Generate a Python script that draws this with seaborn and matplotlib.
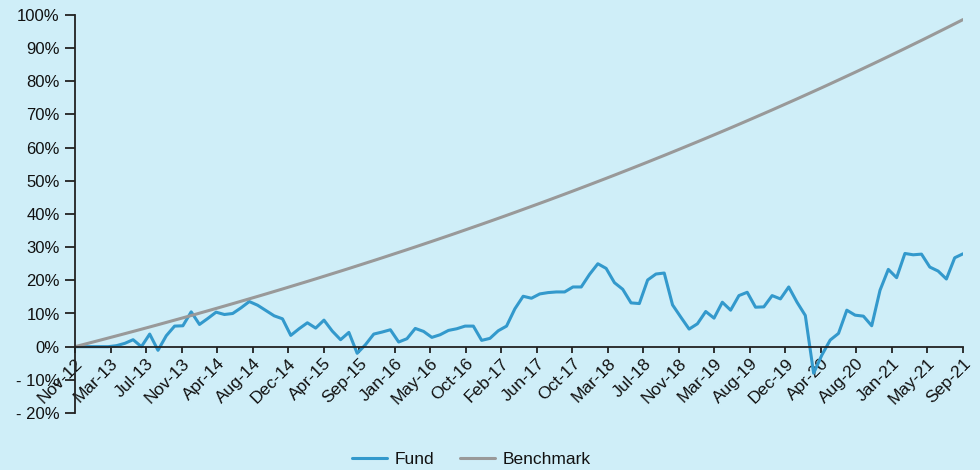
import numpy as np
import pandas as pd
import matplotlib
matplotlib.use("Agg")
import matplotlib.pyplot as plt
import seaborn as sns

# Cumulative returns (%) by month, Nov-12 base point through Sep-21
fund = [
    0.0, 0.0, 0.0, 0.0, 0.0, 0.3, 1.0, 2.1, 0.0, 3.8,
    -1.1, 3.3, 6.2, 6.3, 10.5, 6.7, 8.5, 10.4, 9.7, 10.0,
    11.7, 13.6, 12.5, 10.9, 9.3, 8.4, 3.4, 5.4, 7.2, 5.6,
    8.0, 4.7, 2.1, 4.3, -2.0, 0.6, 3.8, 4.4, 5.1, 1.4,
    2.4, 5.5, 4.6, 2.8, 3.6, 4.9, 5.4, 6.2, 6.2, 1.9,
    2.5, 4.8, 6.2, 11.4, 15.2, 14.6, 15.9, 16.3, 16.5, 16.5,
    18.0, 18.0, 21.8, 25.0, 23.6, 19.3, 17.3, 13.2, 13.0, 20.1,
    21.9, 22.2, 12.6, 8.9, 5.3, 6.9, 10.6, 8.6, 13.4, 11.0,
    15.4, 16.4, 11.9, 12.0, 15.4, 14.4, 18.0, 13.4, 9.4, -8.0,
    -2.5, 2.0, 4.0, 11.0, 9.5, 9.2, 6.3, 17.0, 23.3, 20.8,
    28.1, 27.7, 27.9, 24.0, 22.8, 20.4, 26.8, 28.0,
]

benchmark = [
    0.00, 0.64, 1.29, 1.94, 2.60, 3.26, 3.92, 4.59, 5.26, 5.94,
    6.62, 7.31, 8.00, 8.69, 9.39, 10.10, 10.81, 11.52, 12.24, 12.96,
    13.69, 14.42, 15.15, 15.89, 16.64, 17.39, 18.15, 18.91, 19.67, 20.44,
    21.22, 22.00, 22.78, 23.57, 24.37, 25.17, 25.97, 26.78, 27.60, 28.42,
    29.24, 30.07, 30.91, 31.75, 32.60, 33.45, 34.31, 35.18, 36.05, 36.92,
    37.80, 38.69, 39.58, 40.48, 41.39, 42.30, 43.21, 44.13, 45.06, 45.99,
    46.93, 47.88, 48.83, 49.79, 50.75, 51.72, 52.70, 53.68, 54.67, 55.66,
    56.67, 57.67, 58.69, 59.71, 60.74, 61.77, 62.81, 63.86, 64.91, 65.97,
    67.04, 68.12, 69.20, 70.29, 71.38, 72.49, 73.60, 74.71, 75.84, 76.97,
    78.10, 79.25, 80.41, 81.57, 82.73, 83.91, 85.09, 86.28, 87.48, 88.69,
    89.90, 91.13, 92.35, 93.59, 94.84, 96.09, 97.35, 98.62,
]

tick_labels = [
    "Nov-12", "Mar-13", "Jul-13", "Nov-13", "Apr-14", "Aug-14", "Dec-14",
    "Apr-15", "Sep-15", "Jan-16", "May-16", "Oct-16", "Feb-17", "Jun-17",
    "Oct-17", "Mar-18", "Jul-18", "Nov-18", "Mar-19", "Aug-19", "Dec-19",
    "Apr-20", "Aug-20", "Jan-21", "May-21", "Sep-21",
]

y_ticks = [-20, -10, 0, 10, 20, 30, 40, 50, 60, 70, 80, 90, 100]
y_tick_labels = ["- 20%", "- 10%", "0%", "10%", "20%", "30%", "40%",
                 "50%", "60%", "70%", "80%", "90%", "100%"]

series_names = ["Fund", "Benchmark"]
series_colors = ["#3399cc", "#999999"]

bg = "#cfeef8"

sns.set_theme(style="white")
plt.rcParams["font.family"] = ["Liberation Sans", "DejaVu Sans"]
plt.rcParams["text.color"] = "#111111"

months = np.arange(len(fund))
df = pd.concat([
    pd.DataFrame({"month": months, "value": fund, "series": "Fund"}),
    pd.DataFrame({"month": months, "value": benchmark, "series": "Benchmark"}),
])

fig = plt.figure(figsize=(9.8, 4.7), dpi=100, facecolor=bg)
ax = fig.add_axes([75 / 980, 1 - 413 / 470, 888 / 980, 398 / 470])
ax.set_facecolor(bg)

sns.lineplot(data=df, x="month", y="value", hue="series",
             hue_order=series_names, palette=series_colors,
             linewidth=2.2, ax=ax, legend=False)

ax.set_xlim(0, len(fund) - 1)
ax.set_ylim(-20, 100)

# axes: left spine spans the whole range, x-axis sits on the zero line
for side in ("top", "right"):
    ax.spines[side].set_visible(False)
ax.spines["bottom"].set_position(("data", 0))
for side in ("left", "bottom"):
    ax.spines[side].set_color("#222222")
    ax.spines[side].set_linewidth(1.3)

ax.set_yticks(y_ticks)
ax.set_yticklabels(y_tick_labels)
ax.tick_params(axis="y", direction="out", length=7, width=1.3,
               color="#222222", pad=4, labelsize=12, labelcolor="#111111",
               left=True)

xt = np.linspace(0, len(fund) - 1, len(tick_labels))
ax.set_xticks(xt)
ax.set_xticklabels(tick_labels, rotation=45, ha="right", va="top",
                   rotation_mode="anchor")
ax.tick_params(axis="x", direction="out", length=4.5, width=1.3,
               color="#222222", pad=2, labelsize=12.5, labelcolor="#111111",
               bottom=True)

ax.set_xlabel("")
ax.set_ylabel("")
ax.grid(False)

handles = [plt.Line2D([], [], color=c, linewidth=2.2) for c in series_colors]
fig.legend(handles, series_names, loc="center", bbox_to_anchor=(0.481, 0.022),
           ncol=2, frameon=False, fontsize=12.5, handlelength=2.0,
           handletextpad=0.45, columnspacing=1.5)

fig.savefig("out.png", dpi=100, facecolor=bg)
